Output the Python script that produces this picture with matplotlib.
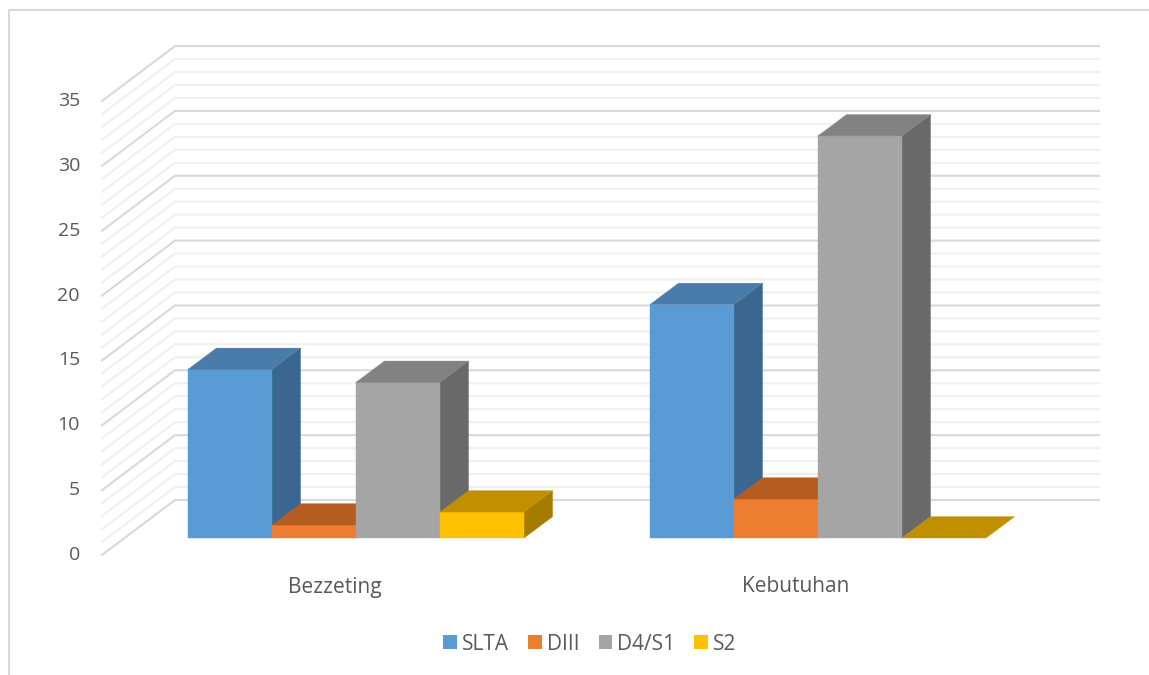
import matplotlib
matplotlib.use("Agg")
import matplotlib.pyplot as plt
from matplotlib.patches import Polygon, Patch

plt.rcParams['font.family'] = ['Open Sans', 'DejaVu Sans']

categories = ["Bezzeting", "Kebutuhan"]
series_names = ["SLTA", "DIII", "D4/S1", "S2"]
slta = [13, 18]
diii = [1, 3]
d4s1 = [12, 31]
s2 = [2, 0]
ticks = [0, 5, 10, 15, 20, 25, 30, 35]
minor_ticks = list(range(0, 36))

series = [slta, diii, d4s1, s2]
front = ["#5B9BD5", "#ED7D31", "#A5A5A5", "#FFC000"]
top = ["#4A7CA9", "#B55D20", "#828282", "#C09000"]
side = ["#3A668F", "#9A4F1B", "#696969", "#A67C00"]

W, H = 1149, 675
PX = 12.97                 # pixels per value unit
BASE = 538                 # pixel row of bar base
y0 = lambda px: (BASE - px) / PX

fig = plt.figure(figsize=(W / 100, H / 100), dpi=100)
ax = fig.add_axes([0, 0, 1, 1])
ax.set_xlim(0, W)
ax.set_ylim(y0(H), y0(0))
ax.axis("off")

# chart border
ax.plot([9, 9, W], [y0(H), y0(10), y0(10)], color="#D9D9D9", lw=1.5, zorder=1)

# walls: back plane sits above the bar base, side plane runs to the front
back_off = y0(500)
front_off = y0(555)
XB0, XB1, XF = 175, 1099, 102
for v in minor_ticks:
    major = v in ticks
    c, z = ("#D9D9D9", 3) if major else ("#F0F0F0", 2)
    ax.plot([XF, XB0, XB1], [v + front_off, v + back_off, v + back_off],
            color=c, lw=1.5, zorder=z, solid_joinstyle="miter")

# bars
BW, DX = 84, 28.5
DY = 21.3 / PX
starts = [188, 650]
z = 10
for g, x0 in enumerate(starts):
    for i, vals in enumerate(series):
        v = vals[g]
        a, b = x0 + i * BW, x0 + (i + 1) * BW
        if v > 0:
            ax.add_patch(Polygon([(b, 0), (b + DX, DY), (b + DX, v + DY), (b, v)],
                                 fc=side[i], ec=side[i], lw=0.3, zorder=z))
            ax.add_patch(Polygon([(a, 0), (b, 0), (b, v), (a, v)],
                                 fc=front[i], ec=front[i], lw=0.3, zorder=z))
        ax.add_patch(Polygon([(a, v), (b, v), (b + DX, v + DY), (a + DX, v + DY)],
                             fc=top[i], ec=top[i], lw=0.3, zorder=z))
        z += 1

# tick labels
for v in ticks:
    ax.text(80, v + front_off + 2 / PX, str(v), ha="right", va="center_baseline",
            fontsize=14, color="#595959")

for name, cx in zip(categories, [335, 796]):
    ax.text(cx, y0(587), name, ha="center", va="center", fontsize=15, color="#595959")

handles = [Patch(fc=c, ec=c, lw=0) for c in front]
ax.legend(handles, series_names, loc="center", bbox_to_anchor=(590, y0(644)),
          bbox_transform=ax.transData, ncol=4, frameon=False, fontsize=15,
          labelcolor="#595959", handlelength=0.67, handleheight=0.67,
          handletextpad=0.24, columnspacing=0.9, borderpad=0, borderaxespad=0)

fig.savefig("out.png", dpi=100, facecolor="white")
